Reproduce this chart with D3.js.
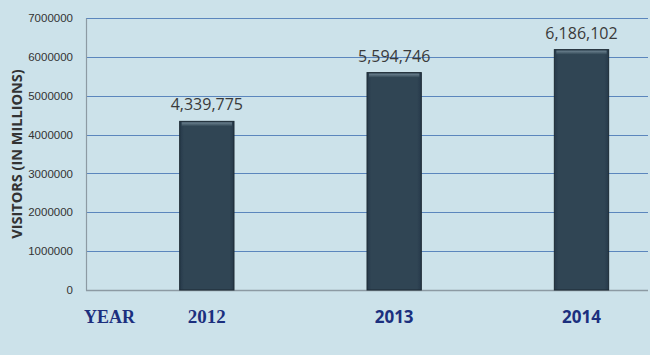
<!DOCTYPE html>
<html>
<head>
<meta charset="utf-8">
<script src="https://cdn.jsdelivr.net/npm/d3@7"></script>
<style>
  body { margin: 0; background: #cce2ea; }
  svg { display: block; }
</style>
</head>
<body>
<div id="vis_container"></div>
<script>
// Visitors per year; the bars sit in the right half of each year's slot.
var years = ["2012", "2013", "2014"];
var visitors = [4339775, 5594746, 6186102];
var yTicks = [0, 1000000, 2000000, 3000000, 4000000, 5000000, 6000000, 7000000];
var yearFonts = ["'Liberation Serif', serif", "'Open Sans', 'Liberation Sans', sans-serif", "'Open Sans', 'Liberation Sans', sans-serif"];

var width = 650;
var height = 355;
var plotLeft = 86, plotRight = 648, plotTop = 18, plotBottom = 290;

var x = d3.scaleBand()
	.domain(years)
	.range([plotLeft, plotRight]);

var y = d3.scaleLinear()
	.domain([0, 7000000])
	.range([plotBottom, plotTop]);

var barWidth = x.bandwidth() * 0.29;

var svg = d3.select("#vis_container")
	.append("svg")
	.attr("width", width)
	.attr("height", height);

svg.append("rect")
	.attr("width", width)
	.attr("height", height)
	.attr("fill", "#cce2ea");

var defs = svg.append("defs");
var bevel = defs.append("linearGradient")
	.attr("id", "bevel")
	.attr("x1", 0).attr("y1", 0).attr("x2", 0).attr("y2", 1);
bevel.append("stop").attr("offset", "0%").attr("stop-color", "#6d8290");
bevel.append("stop").attr("offset", "100%").attr("stop-color", "#2f4553");

var side = defs.append("linearGradient")
	.attr("id", "side")
	.attr("x1", 0).attr("y1", 0).attr("x2", 1).attr("y2", 0);
side.append("stop").attr("offset", "0%").attr("stop-color", "#26394a");
side.append("stop").attr("offset", "8%").attr("stop-color", "#304554");
side.append("stop").attr("offset", "92%").attr("stop-color", "#304554");
side.append("stop").attr("offset", "100%").attr("stop-color", "#26394a");

// Gridlines
svg.append("g")
	.selectAll("line")
	.data(yTicks.slice(1))
	.enter().append("line")
	.attr("x1", plotLeft)
	.attr("x2", plotRight)
	.attr("y1", function(d) { return Math.round(y(d)) + 0.5; })
	.attr("y2", function(d) { return Math.round(y(d)) + 0.5; })
	.attr("stroke", "#5b86bd")
	.attr("stroke-width", 1.2);

// Y axis
var yAxis = svg.append("g")
	.attr("transform", "translate(" + plotLeft + ",0)")
	.call(d3.axisLeft(y).tickValues(yTicks).tickSize(0).tickPadding(13).tickFormat(d3.format("d")));
yAxis.select(".domain").attr("stroke", "#8c9aa3").attr("stroke-width", 1.2);
yAxis.selectAll("text")
	.attr("font-family", "'Liberation Sans', Arial, sans-serif")
	.attr("font-size", "11.5px")
	.attr("fill", "#333");

// Baseline
svg.append("line")
	.attr("x1", plotLeft)
	.attr("x2", plotRight)
	.attr("y1", plotBottom + 0.5)
	.attr("y2", plotBottom + 0.5)
	.attr("stroke", "#8c9aa3")
	.attr("stroke-width", 1.5);

// Bars
var bars = svg.selectAll(".bar")
	.data(years)
	.enter().append("g")
	.attr("class", "bar");

bars.append("rect")
	.attr("x", function(d) { return x(d) + x.bandwidth() / 2; })
	.attr("y", function(d, i) { return y(visitors[i]); })
	.attr("width", barWidth)
	.attr("height", function(d, i) { return plotBottom - y(visitors[i]); })
	.attr("fill", "url(#side)")
	.attr("stroke", "#1c2a34")
	.attr("stroke-width", 1);

bars.append("rect")
	.attr("x", function(d) { return x(d) + x.bandwidth() / 2 + 2; })
	.attr("y", function(d, i) { return y(visitors[i]) + 1; })
	.attr("width", barWidth - 4)
	.attr("height", 4)
	.attr("fill", "url(#bevel)");

// Value labels
bars.append("text")
	.attr("x", function(d) { return x(d) + x.bandwidth() / 2 + barWidth / 2; })
	.attr("y", function(d, i) { return y(visitors[i]) - 11; })
	.attr("text-anchor", "middle")
	.attr("font-family", "'Open Sans', sans-serif")
	.attr("font-size", "16px")
	.attr("fill", "#3a3a3a")
	.text(function(d, i) { return d3.format(",")(visitors[i]); });

// Year labels
bars.append("text")
	.attr("x", function(d) { return x(d) + x.bandwidth() / 2 + barWidth / 2; })
	.attr("y", 323)
	.attr("text-anchor", "middle")
	.attr("font-family", function(d, i) { return yearFonts[i]; })
	.attr("font-weight", "bold")
	.attr("font-size", function(d, i) { return i == 0 ? "19px" : "17px"; })
	.attr("fill", "#1b2f7e")
	.text(function(d) { return d; });

svg.append("text")
	.attr("x", 84)
	.attr("y", 323)
	.attr("font-family", "'Liberation Serif', serif")
	.attr("font-weight", "bold")
	.attr("font-size", "18px")
	.attr("fill", "#1b2f7e")
	.text("YEAR");

// Y axis title
svg.append("text")
	.attr("transform", "translate(22,154) rotate(-90)")
	.attr("text-anchor", "middle")
	.attr("font-family", "'Open Sans', 'Liberation Sans', sans-serif")
	.attr("font-weight", "bold")
	.attr("font-size", "14.5px")
	.attr("fill", "#333")
	.text("VISITORS (IN MILLIONS)");
</script>
</body>
</html>
